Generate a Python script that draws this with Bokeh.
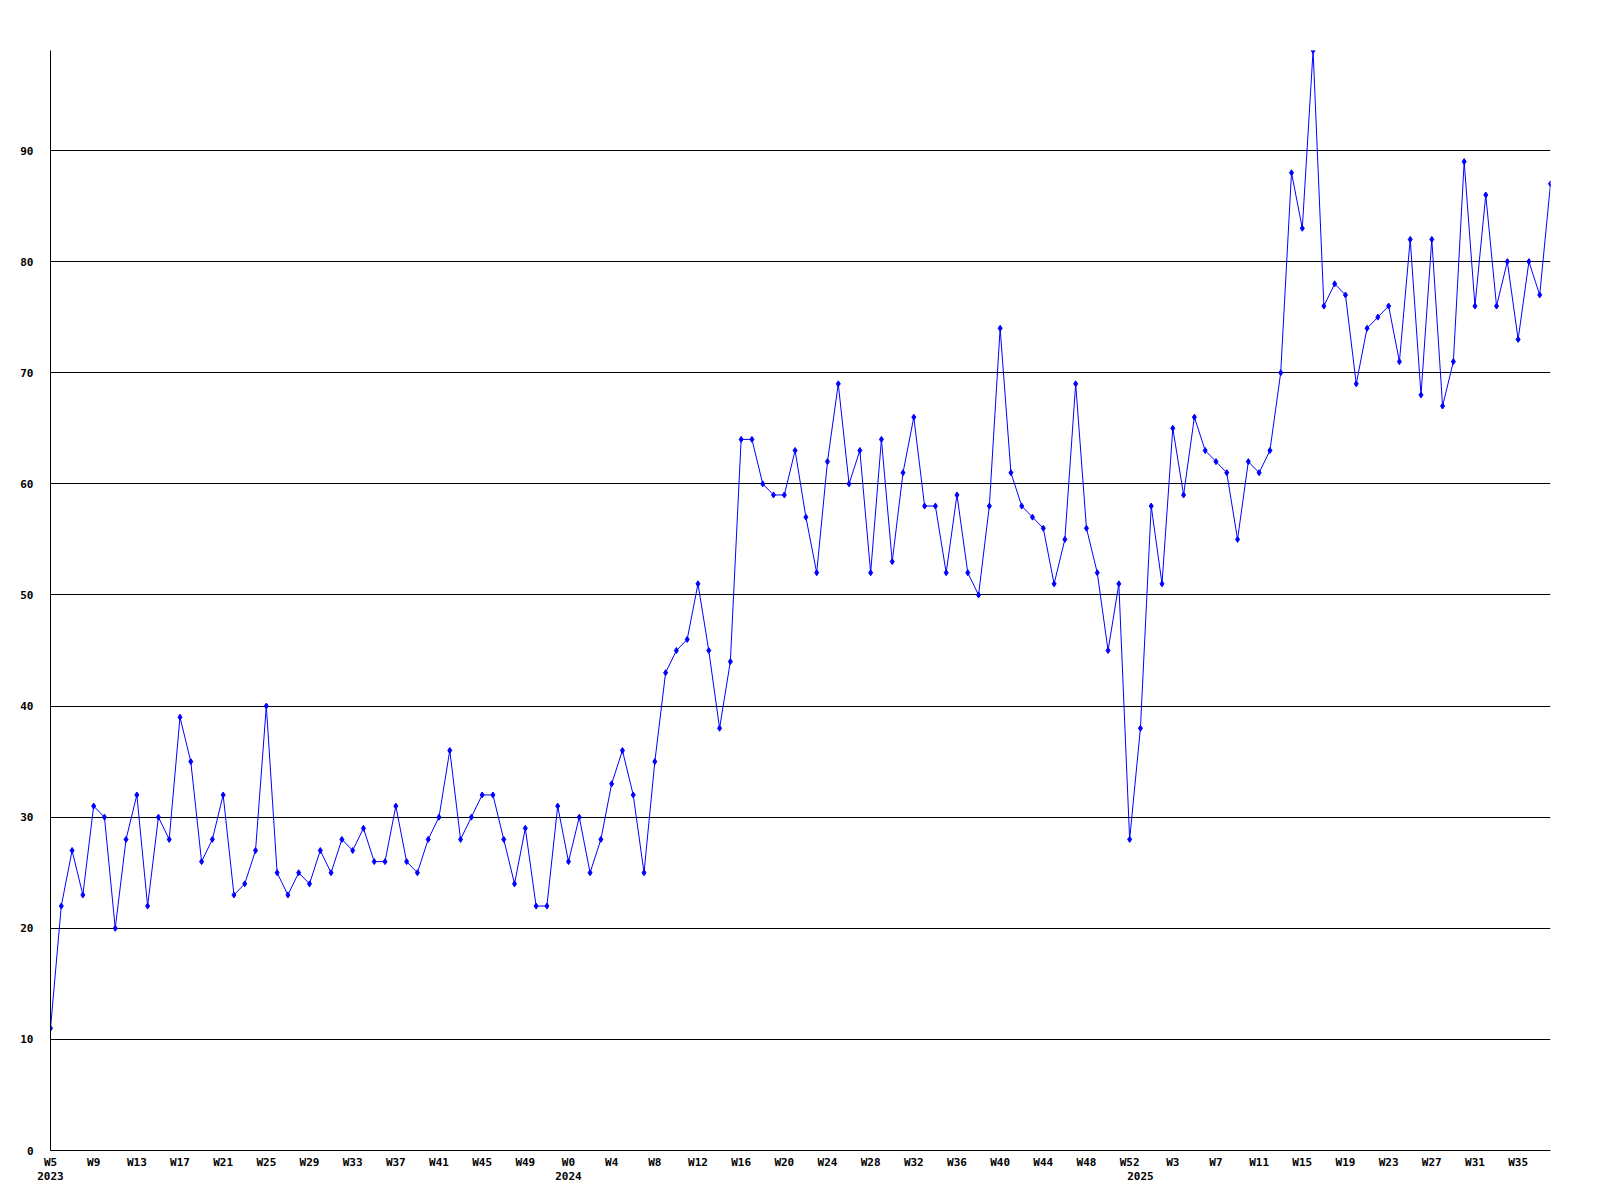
from bokeh.plotting import figure
from bokeh.models import FixedTicker, LinearAxis, Range1d, ColumnDataSource, Grid
from bokeh.embed import file_html
from bokeh.resources import INLINE

# ---- data ----
weeks_2023 = list(range(5, 53))
weeks_2024 = list(range(0, 53))
weeks_2025 = list(range(0, 39))
week_numbers = weeks_2023 + weeks_2024 + weeks_2025
week_years = [2023] * len(weeks_2023) + [2024] * len(weeks_2024) + [2025] * len(weeks_2025)

values = [
    11, 22, 27, 23, 31, 30, 20, 28, 32, 22, 30, 28, 39, 35, 26, 28, 32, 23, 24, 27,
    40, 25, 23, 25, 24, 27, 25, 28, 27, 29, 26, 26, 31, 26, 25, 28, 30, 36, 28, 30,
    32, 32, 28, 24, 29, 22, 22, 31, 26, 30, 25, 28, 33, 36, 32, 25, 35, 43, 45, 46,
    51, 45, 38, 44, 64, 64, 60, 59, 59, 63, 57, 52, 62, 69, 60, 63, 52, 64, 53, 61,
    66, 58, 58, 52, 59, 52, 50, 58, 74, 61, 58, 57, 56, 51, 55, 69, 56, 52, 45, 51,
    28, 38, 58, 51, 65, 59, 66, 63, 62, 61, 55, 62, 61, 63, 70, 88, 83, 99, 76, 78,
    77, 69, 74, 75, 76, 71, 82, 68, 82, 67, 71, 89, 76, 86, 76, 80, 73, 80, 77, 87,
]

y_ticks = [0, 10, 20, 30, 40, 50, 60, 70, 80, 90]
label_step = 4

x = list(range(len(values)))
src = ColumnDataSource(data=dict(x=x, y=values))

FONT = "DejaVu Sans Mono"

p = figure(
    frame_width=1500, frame_height=1100,
    x_range=Range1d(0, len(values) - 1), y_range=Range1d(0, 99),
    output_backend="svg", toolbar_location=None,
    min_border_left=50, min_border_right=42, min_border_top=50, min_border_bottom=40,
    x_axis_type=None, y_axis_type=None,
)
p.outline_line_color = None
p.background_fill_color = "white"
p.border_fill_color = "white"


def style_axis(ax, standoff):
    ax.major_tick_in = 0
    ax.major_tick_out = 0
    ax.minor_tick_in = 0
    ax.minor_tick_out = 0
    ax.major_label_standoff = standoff
    ax.major_label_text_font = FONT
    ax.major_label_text_font_style = "bold"
    ax.major_label_text_font_size = "11px"
    ax.major_label_text_color = "black"


# y axis
yax = LinearAxis(ticker=FixedTicker(ticks=y_ticks))
style_axis(yax, 17)
yax.axis_line_color = "black"
p.add_layout(yax, "left")

# week axis
tick_idx = list(range(0, len(values), label_step))
xax = LinearAxis(ticker=FixedTicker(ticks=tick_idx))
xax.major_label_overrides = {i: f"W{week_numbers[i]}" for i in tick_idx}
style_axis(xax, 5)
xax.axis_line_color = "black"
p.add_layout(xax, "below")

# year axis
year_idx = [i for i in range(len(week_years)) if i == 0 or week_years[i] != week_years[i - 1]]
yrax = LinearAxis(ticker=FixedTicker(ticks=year_idx))
yrax.major_label_overrides = {i: str(week_years[i]) for i in year_idx}
style_axis(yrax, 0)
yrax.axis_line_color = None
p.add_layout(yrax, "below")

# horizontal grid
g = Grid(dimension=1, ticker=FixedTicker(ticks=y_ticks[1:]))
g.grid_line_color = "black"
g.grid_line_width = 1
p.add_layout(g)

p.line("x", "y", source=src, line_color="#0000ff", line_width=1)
p.scatter("x", "y", source=src, marker="diamond", size=6, fill_color="#0000ff", line_color="#0000ff")

open("out.html", "w").write(file_html(p, INLINE))
